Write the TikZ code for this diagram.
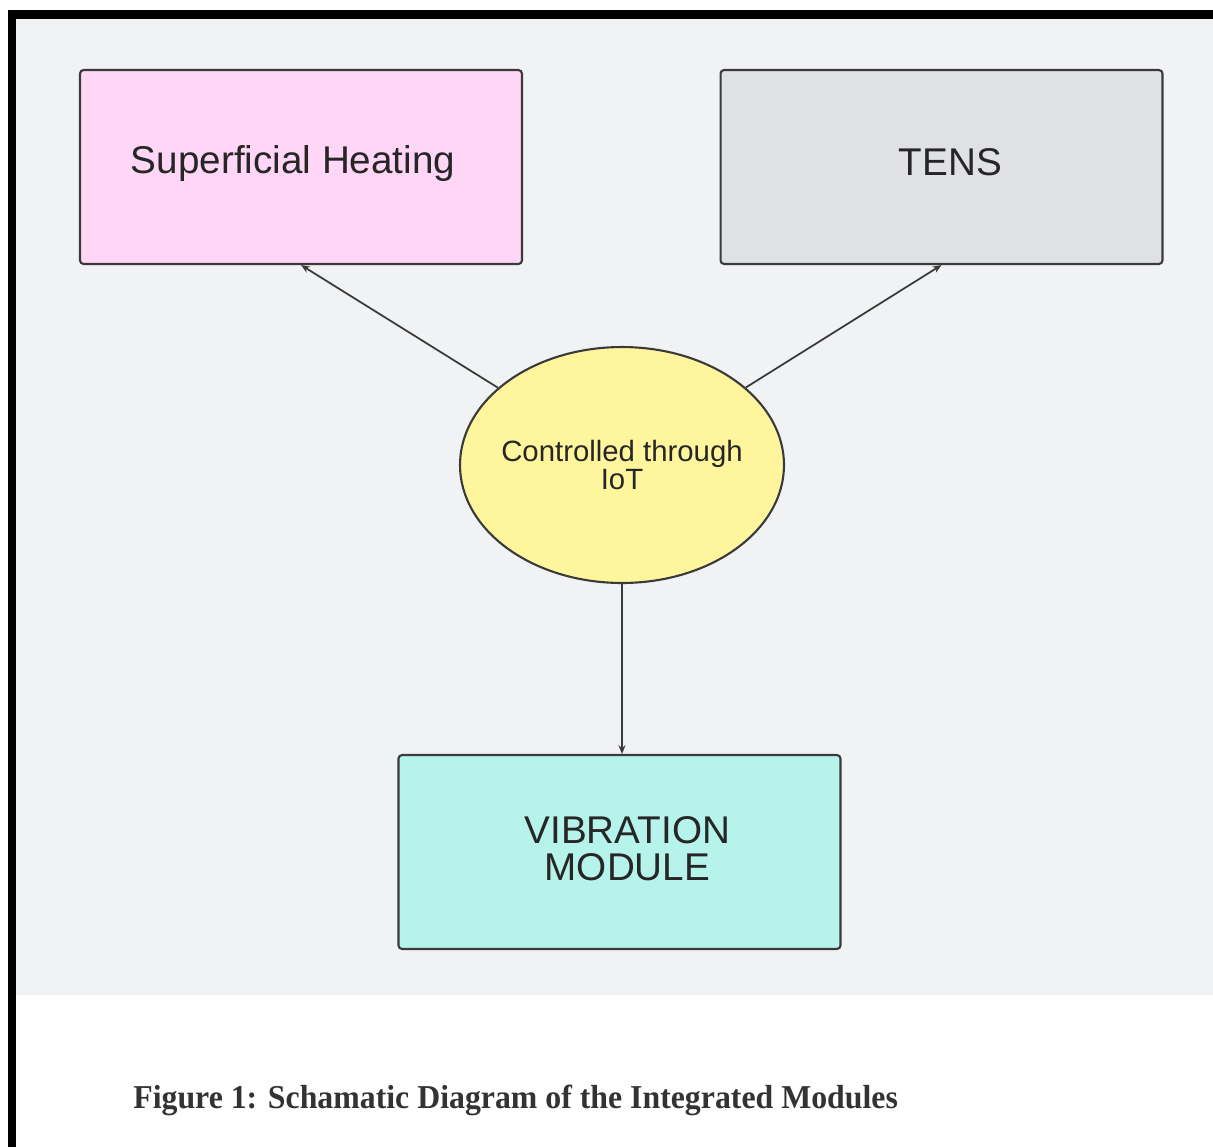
\documentclass[tikz,border=0pt]{standalone}
\usepackage{fontspec}
\setmainfont{Liberation Serif}
\setsansfont{Liberation Sans}
\usepackage{xcolor}
\usetikzlibrary{shapes.geometric, arrows.meta}

\definecolor{bggray}{HTML}{F1F2F4}
\definecolor{heatpink}{HTML}{FFD6F5}
\definecolor{tensgray}{HTML}{DFE1E5}
\definecolor{iotyellow}{HTML}{FFF59D}
\definecolor{vibteal}{HTML}{B6F3EA}
\definecolor{edgegray}{HTML}{3A3A3A}

\begin{document}
\begin{tikzpicture}[x=0.02cm, y=-0.02cm,
    module/.style={draw=edgegray, line width=1.2pt, rounded corners=2pt,
        minimum width=8.84cm, minimum height=3.88cm, align=center,
        font=\sffamily\fontsize{22}{20.5}\selectfont, text=black!85},
    link/.style={-{Stealth[length=5pt, width=4pt]}, draw=edgegray, line width=1pt}]
        \useasboundingbox (0,0) rectangle (1213,1147);
        % frame and background
        \fill[bggray] (16,19) rectangle (1213,995);
        \fill[black] (8,10) rectangle (1213,19);
        \fill[black] (8,10) rectangle (16,1147);

        % modules
        \node[module, fill=heatpink] (heat) at (301,167) {Superficial Heating\hspace*{9pt}\rule[-8pt]{0pt}{0pt}};
        \node[module, fill=tensgray] (tens) at (941.5,167) {\hspace*{10pt}TENS\rule[-6pt]{0pt}{0pt}};
        \node[module, fill=vibteal] (vib) at (619.5,852) {\hspace*{9pt}VIBRATION\\\hspace*{9pt}MODULE\rule[-4pt]{0pt}{0pt}};
        \node[draw=edgegray, line width=1.2pt, ellipse, fill=iotyellow,
            minimum width=6.48cm, minimum height=4.72cm, inner sep=0pt,
            label={[align=center, font=\sffamily\fontsize{16.7}{16}\selectfont, text=black!85]center:Controlled through\\IoT}] (ctrl) at (622,465) {};

        \draw[link] (ctrl) -- (heat.south);
        \draw[link] (ctrl) -- (tens.south);
        \draw[link] (ctrl.south) -- (ctrl.south |- vib.north);

        \node[anchor=base west, inner sep=0pt, text=black!80,
            font=\bfseries\fontsize{19}{22}\selectfont] (cap) at (133,1108)
            {\scalebox{0.953}[1]{Figure 1: Schamatic Diagram of the Integrated Modules}};
    \end{tikzpicture}
\end{document}
